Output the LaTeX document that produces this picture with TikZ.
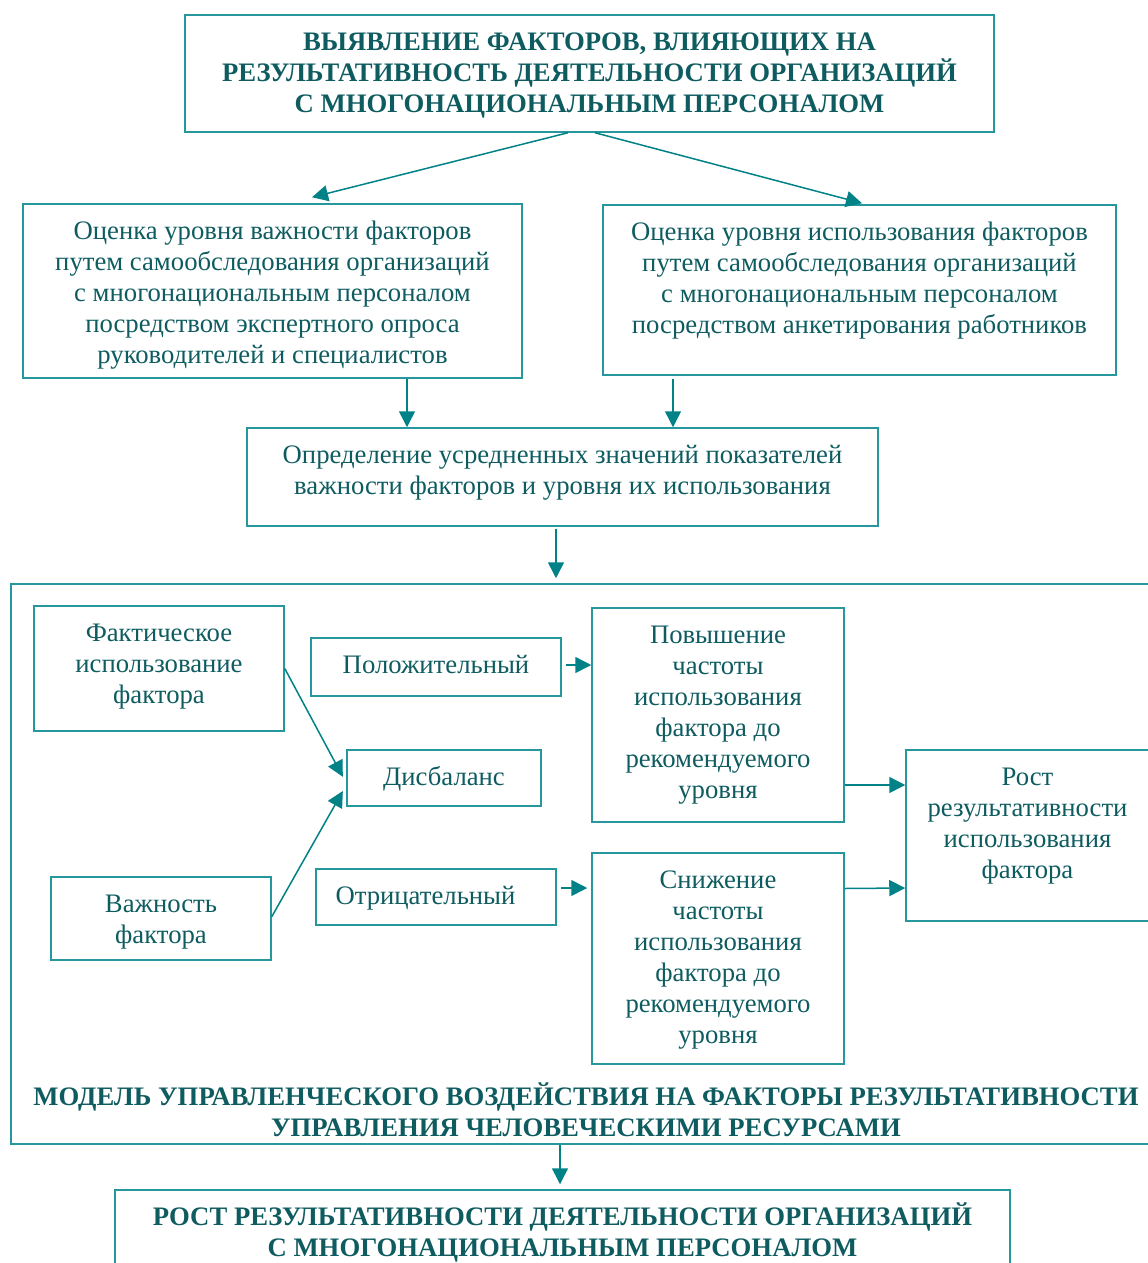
\documentclass[tikz,border=0pt]{standalone}
\usepackage{fontspec}
\setmainfont{Liberation Serif}
\usetikzlibrary{arrows.meta}
\definecolor{lineC}{RGB}{38,152,157}
\definecolor{arrC}{RGB}{0,130,135}
\definecolor{textC}{RGB}{14,92,96}
\newcommand\tb[3]{\parbox[c][#2][t]{#1}{\centering\rule{0pt}{17.6pt}#3}}
\begin{document}
\begin{tikzpicture}[x=0.5pt,y=-0.5pt,
  box/.style={draw=lineC,line width=0.75pt,inner sep=0pt,text=textC,font=\fontsize{13.35}{15.5}\selectfont},
  arr/.style={draw=arrC,line width=0.75pt,-{Triangle[length=8pt,width=8pt]}}]
\useasboundingbox (0,0) rectangle (1147,1263);

\node[box] (big) at (586,864) {\parbox[c][276pt][b]{575pt}{\centering\bfseries МОДЕЛЬ УПРАВЛЕНЧЕСКОГО ВОЗДЕЙСТВИЯ НА ФАКТОРЫ РЕЗУЛЬТАТИВНОСТИ\\УПРАВЛЕНИЯ ЧЕЛОВЕЧЕСКИМИ РЕСУРСАМИ\rule[-4pt]{0pt}{4pt}}};

\node[box] (top) at (589.5,73.5) {\tb{404.5pt}{58.5pt}{\bfseries ВЫЯВЛЕНИЕ ФАКТОРОВ, ВЛИЯЮЩИХ НА\\РЕЗУЛЬТАТИВНОСТЬ ДЕЯТЕЛЬНОСТИ ОРГАНИЗАЦИЙ\\С МНОГОНАЦИОНАЛЬНЫМ ПЕРСОНАЛОМ}};

\node[box] (L) at (272.5,291) {\tb{249.5pt}{87pt}{Оценка уровня важности факторов\\путем самообследования организаций\\с многонациональным персоналом\\посредством экспертного опроса\\руководителей и специалистов}};

\node[box] (R) at (859.5,290) {\tb{256.5pt}{85pt}{Оценка уровня использования факторов\\путем самообследования организаций\\с многонациональным персоналом\\посредством анкетирования работников}};

\node[box] (mid) at (562.5,477) {\tb{315.5pt}{49pt}{Определение усредненных значений показателей\\важности факторов и уровня их использования}};

\node[box] (fakt) at (159,668.5) {\tb{125pt}{62.5pt}{Фактическое\\использование\\фактора}};
\node[box] (pol) at (436,667) {\tb{125pt}{29pt}{Положительный}};
\node[box] (dis) at (444,778) {\tb{97pt}{28pt}{Дисбаланс}};
\node[box] (vazh) at (161,918.5) {\tb{110pt}{41.5pt}{Важность\\фактора}};
\node[box] (otr) at (436,897) {\tb{120pt}{28pt}{\hspace*{-10.5pt}Отрицательный}};
\node[box] (pov) at (718,715) {\tb{126pt}{107pt}{Повышение\\частоты\\использования\\фактора до\\рекомендуемого\\уровня}};
\node[box] (sniz) at (718,958.5) {\tb{126pt}{105.5pt}{Снижение\\частоты\\использования\\фактора до\\рекомендуемого\\уровня}};
\node[box] (rost) at (1027.5,835.5) {\tb{121.5pt}{85.5pt}{Рост\\результативности\\использования\\фактора}};

\node[box] (bot) at (562.5,1235) {\tb{447.5pt}{45pt}{\bfseries РОСТ РЕЗУЛЬТАТИВНОСТИ ДЕЯТЕЛЬНОСТИ ОРГАНИЗАЦИЙ\\С МНОГОНАЦИОНАЛЬНЫМ ПЕРСОНАЛОМ}};

\draw[arr] ([xshift=-10.75pt]top.south) -- ([xshift=19.75pt,yshift=3pt]L.north);
\draw[arr] ([xshift=2.75pt]top.south) -- ([xshift=1.25pt,yshift=0.5pt]R.north);
\draw[arr] ([xshift=67.25pt]L.south) -- ([xshift=-77.75pt]mid.north);
\draw[arr] ([xshift=-93.25pt,yshift=-1.5pt]R.south) -- ([xshift=55.25pt]mid.north);
\draw[arr] ([xshift=-3.25pt,yshift=-1pt]mid.south) -- ([xshift=-15pt,yshift=2.5pt]big.north);
\draw[arr] ([xshift=-13pt]big.south) -- ([xshift=-1.25pt,yshift=2.5pt]bot.north);
\draw[arr] (fakt.east) -- ([xshift=-1.7pt,yshift=0.6pt]dis.west);
\draw[arr] ([yshift=0.9pt]vazh.east) -- ([xshift=-1.7pt,yshift=-6.5pt]dis.west);
\draw[arr] ([xshift=2pt,yshift=1pt]pol.east) -- ([yshift=25pt]pov.west);
\draw[arr] ([xshift=2pt,yshift=4.5pt]otr.east) -- ([xshift=-2pt,yshift=35.25pt]sniz.west);
\draw[arr] ([yshift=-35pt]pov.east) -- ([yshift=25.25pt]rost.west);
\draw[arr] ([yshift=35pt]sniz.east) -- ([yshift=-26.25pt]rost.west);
\end{tikzpicture}
\end{document}
